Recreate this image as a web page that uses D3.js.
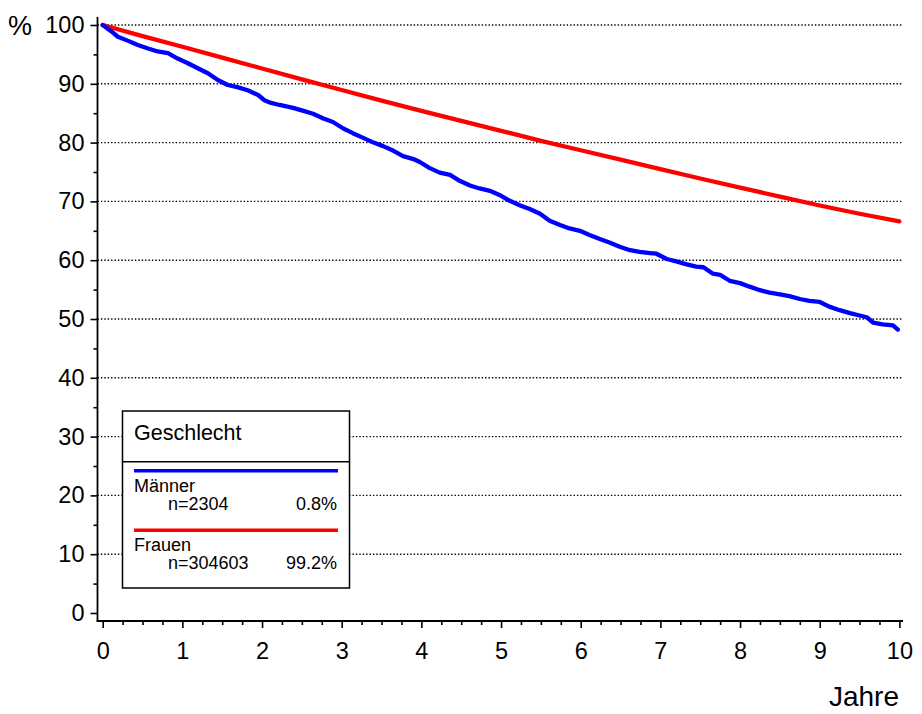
<!DOCTYPE html>
<html>
<head>
<meta charset="utf-8">
<script src="https://cdn.jsdelivr.net/npm/d3@7"></script>
<style>
  html, body { margin: 0; padding: 0; background: #fff; }
  svg { display: block; font-family: Arial, "Liberation Sans", sans-serif; }
</style>
</head>
<body>
<svg id="chart" width="922" height="714"></svg>
<script>
// Survival curves by sex (Kaplan–Meier style), percent over years
const xTicks = [0, 1, 2, 3, 4, 5, 6, 7, 8, 9, 10];
const yTicks = [0, 10, 20, 30, 40, 50, 60, 70, 80, 90, 100];
const gridValues = [10, 20, 30, 40, 50, 60, 70, 80, 90, 100];

const menYears = [0, 0.11, 0.19, 0.32, 0.44, 0.57, 0.69, 0.82, 0.94, 1.07, 1.20, 1.32, 1.45, 1.57, 1.70, 1.82, 1.95, 2.03,
  2.10, 2.22, 2.39, 2.52, 2.64, 2.77, 2.89, 3.02, 3.14, 3.27, 3.40, 3.52, 3.65, 3.77, 3.90, 3.98,
  4.10, 4.23, 4.36, 4.48, 4.61, 4.73, 4.86, 4.98, 5.11, 5.24, 5.36, 5.49, 5.61, 5.74, 5.86, 5.99,
  6.11, 6.24, 6.36, 6.49, 6.62, 6.74, 6.87, 6.95, 7.08, 7.20, 7.33, 7.45, 7.54, 7.66, 7.75, 7.87,
  8.00, 8.12, 8.25, 8.37, 8.50, 8.62, 8.75, 8.87, 9.00, 9.12, 9.25, 9.38, 9.50, 9.59, 9.67, 9.79, 9.92, 9.98];
const menSurvival = [100, 98.9, 98.0, 97.3, 96.6, 96.0, 95.5, 95.2, 94.3, 93.5, 92.6, 91.8, 90.6, 89.8, 89.4, 88.9, 88.1, 87.2,
  86.8, 86.4, 85.9, 85.4, 84.9, 84.1, 83.5, 82.4, 81.6, 80.8, 80.0, 79.4, 78.6, 77.7, 77.2, 76.7,
  75.7, 74.9, 74.5, 73.5, 72.7, 72.2, 71.8, 71.1, 70.1, 69.3, 68.7, 67.9, 66.7, 66.0, 65.4, 65.0,
  64.3, 63.6, 63.0, 62.3, 61.7, 61.4, 61.2, 61.1, 60.2, 59.8, 59.3, 58.9, 58.8, 57.7, 57.5, 56.5,
  56.1, 55.5, 54.9, 54.5, 54.2, 53.9, 53.4, 53.1, 52.9, 52.1, 51.5, 51.0, 50.6, 50.3, 49.4, 49.1, 48.9, 48.2];

const womenYears = [0, 0.5, 1, 1.5, 2, 2.5, 3, 3.5, 4, 4.5, 5, 5.5, 6, 6.5, 7, 7.5, 8, 8.5, 9, 9.5, 10];
const womenSurvival = [100, 98.1, 96.3, 94.45, 92.6, 90.75, 88.95, 87.15, 85.4, 83.7, 82.0, 80.3, 78.7, 77.1, 75.5, 73.9, 72.35, 70.8, 69.3, 67.9, 66.6];

const legendTitle = "Geschlecht";
const groupNames = ["Männer", "Frauen"];
const groupCounts = ["n=2304", "n=304603"];
const groupShares = ["0.8%", "99.2%"];
const groupColors = ["#0000ff", "#ff0000"];

const svg = d3.select("#chart");
const x = d3.scaleLinear().domain([0, 10]).range([102.7, 899.4]);
const y = d3.scaleLinear().domain([0, 100]).range([613, 25]);
const axisX0 = 97.5, axisY0 = 621;

// dotted horizontal grid
svg.append("g").selectAll("line").data(gridValues).join("line")
  .attr("x1", axisX0).attr("x2", 903)
  .attr("y1", d => y(d)).attr("y2", d => y(d))
  .attr("stroke", "#000").attr("stroke-width", 1.4)
  .attr("stroke-dasharray", "1.4,2");

// y axis: major ticks with labels, minor ticks at fives
const yMajor = svg.append("g").attr("transform", `translate(${axisX0},0)`)
  .call(d3.axisLeft(y).tickValues(yTicks).tickSize(7).tickPadding(6).tickFormat(d3.format("d")));
const yMinor = svg.append("g").attr("transform", `translate(${axisX0},0)`)
  .call(d3.axisLeft(y).tickValues(d3.range(5, 100, 10)).tickSize(4).tickFormat(""));

// x axis: major ticks with labels, minor ticks at quarters
const xMajor = svg.append("g").attr("transform", `translate(0,${axisY0})`)
  .call(d3.axisBottom(x).tickValues(xTicks).tickSize(7).tickPadding(14).tickFormat(d3.format("d")));
const xMinor = svg.append("g").attr("transform", `translate(0,${axisY0})`)
  .call(d3.axisBottom(x).tickValues(d3.range(0, 10.01, 0.25).filter(v => Math.abs(v - Math.round(v)) > 1e-6)).tickSize(4).tickFormat(""));

[yMajor, yMinor, xMajor, xMinor].forEach(g => {
  g.select(".domain").remove();
  g.selectAll(".tick line").attr("stroke", "#000").attr("stroke-width", 1.6);
  g.selectAll(".tick text").attr("fill", "#000").style("font-size", "23.5px")
    .style("font-family", "Arial, 'Liberation Sans', sans-serif");
});

// axis lines
svg.append("line").attr("x1", axisX0).attr("x2", axisX0).attr("y1", 17).attr("y2", axisY0 + 0.8)
  .attr("stroke", "#000").attr("stroke-width", 1.8);
svg.append("line").attr("x1", axisX0 - 0.8).attr("x2", 903).attr("y1", axisY0).attr("y2", axisY0)
  .attr("stroke", "#000").attr("stroke-width", 1.8);

// axis titles
svg.append("text").attr("x", 8).attr("y", 35).style("font-size", "27px").text("%");
svg.append("text").attr("x", 899).attr("y", 706).attr("text-anchor", "end").style("font-size", "28px").text("Jahre");

// survival curves
const line = d3.line().x(d => x(d[0])).y(d => y(d[1]));
const series = [
  d3.zip(menYears, menSurvival),
  d3.zip(womenYears, womenSurvival)
];
// women first so the men curve draws on top
[1, 0].forEach(i => {
  svg.append("path").datum(series[i])
    .attr("d", line)
    .attr("fill", "none")
    .attr("stroke", groupColors[i])
    .attr("stroke-width", 4.3)
    .attr("stroke-linejoin", "round")
    .attr("stroke-linecap", "round");
});

// legend box
const lg = svg.append("g");
lg.append("rect").attr("x", 122.5).attr("y", 411).attr("width", 227).attr("height", 177)
  .attr("fill", "#fff").attr("stroke", "#000").attr("stroke-width", 1.5);
lg.append("line").attr("x1", 122.5).attr("x2", 349.5).attr("y1", 461.7).attr("y2", 461.7)
  .attr("stroke", "#000").attr("stroke-width", 1.5);
lg.append("text").attr("x", 134).attr("y", 440).style("font-size", "21.5px").text(legendTitle);

const rowOffsets = [0, 59.5];
groupNames.forEach((name, i) => {
  const oy = rowOffsets[i];
  lg.append("line").attr("x1", 134).attr("x2", 338).attr("y1", 470.7 + oy).attr("y2", 470.7 + oy)
    .attr("stroke", groupColors[i]).attr("stroke-width", 3.5);
  lg.append("text").attr("x", 134).attr("y", 491.5 + oy).style("font-size", "18px").text(name);
  lg.append("text").attr("x", 168).attr("y", 509.5 + oy).style("font-size", "18px").text(groupCounts[i]);
  lg.append("text").attr("x", 337).attr("y", 509.5 + oy).attr("text-anchor", "end").style("font-size", "18px").text(groupShares[i]);
});
</script>
</body>
</html>
